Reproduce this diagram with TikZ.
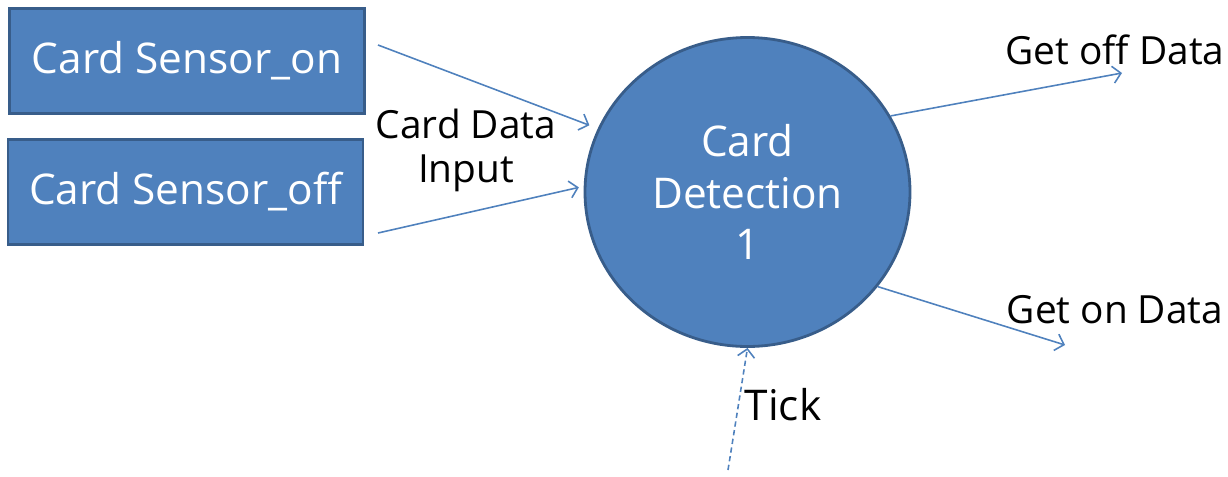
\documentclass[tikz,border=0pt]{standalone}
\usepackage{fontspec}
\setmainfont{Open Sans}
\usetikzlibrary{shapes.geometric,arrows.meta}
\definecolor{dfdblue}{HTML}{4F81BD}
\definecolor{dfdedge}{HTML}{385D8A}
\begin{document}
\begin{tikzpicture}[>={Straight Barb[length=1.6mm,width=3.4mm]},
box/.style={draw=dfdedge,line width=1.6pt,fill=dfdblue,text=white,minimum width=7.1cm,minimum height=2.1cm,font=\fontsize{24bp}{28bp}\selectfont},
proc/.style={ellipse,draw=dfdedge,line width=1.6pt,fill=dfdblue,text=white,align=center,minimum width=6.5cm,minimum height=6.18cm,inner sep=0pt,font=\fontsize{24bp}{29bp}\selectfont},
lbl/.style={align=center,font=\fontsize{22bp}{25bp}\selectfont},
flow/.style={draw=dfdblue,line width=0.9pt}]
\useasboundingbox (0,0) rectangle (24.56,-9.52);
\node[box] (a) at (3.74,-1.22) {Card Sensor\_on};
\node[box] (b) at (3.71,-3.84) {Card Sensor\_off};
\node[proc] (c) at (14.95,-3.84) {Card\\Detection\\1};
\node[lbl] (d) at (9.32,-3.0) {Card Data\\Input};
\node[lbl] (e) at (22.3,-1.0) {Get off Data};
\node[lbl] (f) at (22.3,-6.2) {Get on Data};
\node[lbl,font=\fontsize{24bp}{28bp}\selectfont] (g) at (15.66,-8.1) {Tick};
\coordinate (a1) at (7.56,-0.9);\coordinate (b1) at (7.56,-4.66);
\coordinate (e1) at (22.44,-1.46);\coordinate (f1) at (21.3,-6.9);
\coordinate (g1) at (14.56,-9.4);
\draw[flow,->,shorten >=0.18cm] (a1)--(c.157.6);\draw[flow,->,shorten >=0.1cm] (b1)--(c.178.6);
\draw[flow,->] (c.28.8)--(e1);\draw[flow,->] (c.-36.3)--(f1);
\draw[flow,->,densely dashed] (g1)--(c.-90);
\end{tikzpicture}
\end{document}
